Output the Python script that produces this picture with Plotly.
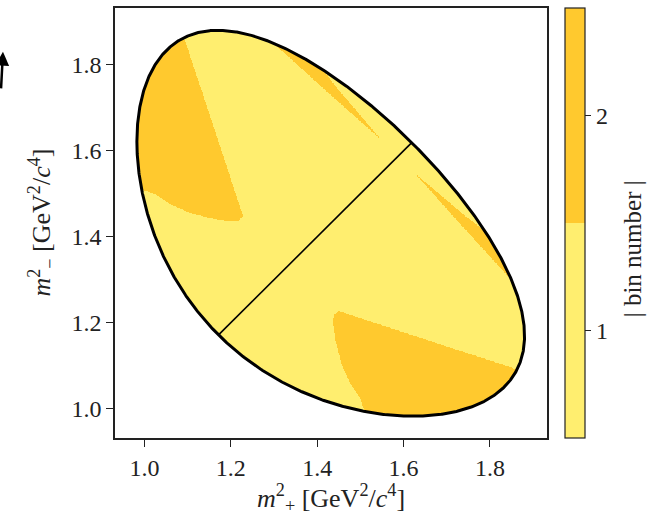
import numpy as np
import plotly.graph_objects as go

# Particle masses [GeV/c^2] for D0 -> K_S K+ K-
M_D = 1.86484
M_KS = 0.497611
M_K = 0.493677

# |bin number| = 2 regions in the m+^2 > m-^2 half (vertices in GeV^2/c^4);
# the m-^2 > m+^2 half is their mirror image across the diagonal.
region_low_x = [1.4373, 1.4489, 1.8500, 1.9001, 1.8693, 1.5260, 1.4991,
                1.4759, 1.4567, 1.4435, 1.4359]
region_low_y = [1.2180, 1.2280, 1.0962, 1.0754, 0.9445, 0.9445, 1.0254,
                1.0601, 1.1024, 1.1526, 1.1988]
region_edge_x = [1.6263, 1.6918, 1.7460, 1.7922, 1.8154, 1.8461, 1.8924,
                 1.8693, 1.8461, 1.7305]
region_edge_y = [1.5471, 1.4916, 1.4453, 1.4106, 1.3914, 1.3914, 1.3145,
                 1.2835, 1.3029, 1.4300]

bin_values = [1, 2]
tick_values = [1.0, 1.2, 1.4, 1.6, 1.8]
axis_range = [0.932, 1.932]

COL_BIN1 = "#FFEE6F"
COL_BIN2 = "#FFC92E"


def m13sq_limits(s):
    """Kinematic limits of m-^2 for a given m+^2 = s."""
    s = np.asarray(s, dtype=float)
    m12 = np.sqrt(s)
    e1 = (s + M_KS**2 - M_K**2) / (2 * m12)
    e3 = (M_D**2 - s - M_K**2) / (2 * m12)
    p1 = np.sqrt(np.clip(e1**2 - M_KS**2, 0, None))
    p3 = np.sqrt(np.clip(e3**2 - M_K**2, 0, None))
    lo = (e1 + e3)**2 - (p1 + p3)**2
    hi = (e1 + e3)**2 - (p1 - p3)**2
    return lo, hi


s_min = (M_KS + M_K)**2
s_max = (M_D - M_K)**2

# Dalitz boundary contour
t = np.linspace(0, np.pi, 600)
s_b = s_min + (s_max - s_min) * (1 - np.cos(t)) / 2
lo_b, hi_b = m13sq_limits(s_b)
bx = np.concatenate([s_b, s_b[::-1], s_b[:1]])
by = np.concatenate([hi_b, lo_b[::-1], hi_b[:1]])

# Where the diagonal m+^2 = m-^2 meets the boundary
s_fine = np.linspace(s_min, s_max, 200001)
lo_f, hi_f = m13sq_limits(s_fine)


def crossing(f):
    i = np.where(np.diff(np.sign(f)) != 0)[0][0]
    return s_fine[i] - f[i] * (s_fine[i + 1] - s_fine[i]) / (f[i + 1] - f[i])


d_lo = crossing(lo_f - s_fine)
d_hi = crossing(hi_f - s_fine)


def in_polygon(px, py, xs, ys):
    xs = np.asarray(xs)
    ys = np.asarray(ys)
    inside = np.zeros(px.shape, dtype=bool)
    j = len(xs) - 1
    for i in range(len(xs)):
        cond = ((ys[i] > py) != (ys[j] > py)) & (
            px < (xs[j] - xs[i]) * (py - ys[i]) / (ys[j] - ys[i] + 1e-15) + xs[i])
        inside ^= cond
        j = i
    return inside


# Bin map on a fine grid
n = 720
gx = np.linspace(axis_range[0], axis_range[1], n)
gy = np.linspace(axis_range[0], axis_range[1], n)
X, Y = np.meshgrid(gx, gy)
with np.errstate(invalid="ignore", divide="ignore"):
    lo_g, hi_g = m13sq_limits(np.clip(gx, s_min, s_max))
LO = np.broadcast_to(lo_g, X.shape)
HI = np.broadcast_to(hi_g, X.shape)
phys = (X >= s_min) & (X <= s_max) & (Y >= LO) & (Y <= HI)

second = np.zeros(X.shape, dtype=bool)
for rx, ry in [(region_low_x, region_low_y), (region_edge_x, region_edge_y)]:
    second |= in_polygon(X, Y, rx, ry)      # m+^2 > m-^2 half
    second |= in_polygon(X, Y, ry, rx)      # mirrored half

Z = np.full(X.shape, np.nan, dtype=np.float32)
Z[phys] = bin_values[0]
Z[phys & second] = bin_values[1]

fig = go.Figure()

fig.add_trace(go.Heatmap(
    x=gx, y=gy, z=Z,
    zmin=0.5, zmax=2.5,
    colorscale=[[0, COL_BIN1], [0.5, COL_BIN1], [0.5, COL_BIN2], [1, COL_BIN2]],
    hoverinfo="skip",
    colorbar=dict(
        x=1.0417, xanchor="left", xref="paper",
        y=0.5, yanchor="middle", len=1.0, lenmode="fraction", ypad=0, xpad=0,
        thickness=20, outlinewidth=1.2, outlinecolor="#222",
        tickvals=bin_values, ticks="outside", ticklen=6, tickwidth=1.2,
        tickcolor="#222",
        tickfont=dict(family="Liberation Serif", size=24, color="#222"),
    ),
))

fig.add_trace(go.Scatter(
    x=bx, y=by, mode="lines",
    line=dict(color="black", width=3), hoverinfo="skip", showlegend=False,
))

fig.add_trace(go.Scatter(
    x=[d_lo, d_hi], y=[d_lo, d_hi], mode="lines",
    line=dict(color="black", width=1.6), hoverinfo="skip", showlegend=False,
))

axis_common = dict(
    range=axis_range, tickvals=tick_values, tickformat=".1f",
    showgrid=False, zeroline=False,
    showline=True, linecolor="#222", linewidth=1.5, mirror=True,
    ticks="outside", ticklen=7, tickwidth=1.2, tickcolor="#222",
    tickfont=dict(family="Liberation Serif", size=24, color="#222"),
)

label_font = dict(family="Liberation Serif", size=26, color="#222")

fig.update_layout(
    width=648, height=516,
    margin=dict(l=115, r=101, t=6, b=78),
    paper_bgcolor="white", plot_bgcolor="white",
    showlegend=False,
    xaxis=axis_common,
    yaxis=axis_common,
    annotations=[
        dict(text="<i>m</i><sup>2</sup><sub>+</sub> [GeV<sup>2</sup>/<i>c</i><sup>4</sup>]",
             xref="paper", yref="paper", x=0.5, y=-0.139,
             xanchor="center", yanchor="middle", showarrow=False, font=label_font),
        dict(text="<i>m</i><sup>2</sup><sub>\u2212</sub> [GeV<sup>2</sup>/<i>c</i><sup>4</sup>]",
             xref="paper", yref="paper", x=-0.17, y=0.5, textangle=-90,
             xanchor="center", yanchor="middle", showarrow=False, font=label_font),
        dict(text="| bin number |",
             xref="paper", yref="paper", x=1.198, y=0.44, textangle=-90,
             xanchor="center", yanchor="middle", showarrow=False,
             font=dict(family="Liberation Serif", size=25, color="#222")),
        dict(text="", xref="paper", yref="paper", x=-0.2593, y=0.898,
             ax=-2, ay=38, showarrow=True, arrowhead=2, arrowsize=1.1,
             arrowwidth=2.5, arrowcolor="black"),
    ],
)

fig.write_html("out.html")
